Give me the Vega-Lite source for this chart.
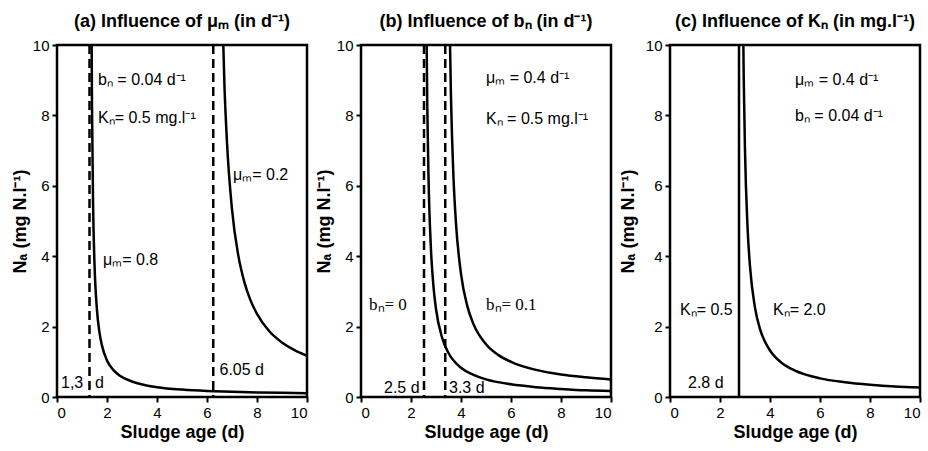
{
  "$schema": "https://vega.github.io/schema/vega-lite/v6.json",
  "background": "white",
  "padding": {"left": 10, "top": 11, "right": 3, "bottom": 2},
  "config": {
    "view": {"stroke": "black", "strokeWidth": 2.5},
    "axis": {"grid": false, "domain": false, "tickColor": "black", "tickWidth": 2, "tickSize": 5, "labelFont": "Liberation Sans", "labelFontSize": 15, "labelColor": "black", "labelPadding": 3, "titleFont": "Liberation Sans", "titleFontSize": 18, "titleFontWeight": "bold", "titleColor": "black", "titlePadding": 3},
    "title": {"font": "Liberation Sans", "fontSize": 18, "fontWeight": "bold", "color": "black", "offset": 7},
    "concat": {"spacing": 4}
  },
  "datasets": {
    "curves": [
      {"p": "a", "s": "m08", "x": 1.38, "y": 10.81},
      {"p": "a", "s": "m08", "x": 1.4, "y": 8.25},
      {"p": "a", "s": "m08", "x": 1.45, "y": 5.19},
      {"p": "a", "s": "m08", "x": 1.5, "y": 3.79},
      {"p": "a", "s": "m08", "x": 1.6, "y": 2.46},
      {"p": "a", "s": "m08", "x": 1.7, "y": 1.83},
      {"p": "a", "s": "m08", "x": 1.8, "y": 1.46},
      {"p": "a", "s": "m08", "x": 2.0, "y": 1.04},
      {"p": "a", "s": "m08", "x": 2.25, "y": 0.77},
      {"p": "a", "s": "m08", "x": 2.5, "y": 0.61},
      {"p": "a", "s": "m08", "x": 3.0, "y": 0.44},
      {"p": "a", "s": "m08", "x": 3.5, "y": 0.34},
      {"p": "a", "s": "m08", "x": 4.0, "y": 0.28},
      {"p": "a", "s": "m08", "x": 5.0, "y": 0.21},
      {"p": "a", "s": "m08", "x": 6.0, "y": 0.17},
      {"p": "a", "s": "m08", "x": 7.0, "y": 0.15},
      {"p": "a", "s": "m08", "x": 8.0, "y": 0.13},
      {"p": "a", "s": "m08", "x": 9.0, "y": 0.12},
      {"p": "a", "s": "m08", "x": 10.0, "y": 0.11},
      {"p": "a", "s": "m02", "x": 6.6, "y": 11.29},
      {"p": "a", "s": "m02", "x": 6.7, "y": 8.81},
      {"p": "a", "s": "m02", "x": 6.8, "y": 7.23},
      {"p": "a", "s": "m02", "x": 7.0, "y": 5.33},
      {"p": "a", "s": "m02", "x": 7.25, "y": 4.03},
      {"p": "a", "s": "m02", "x": 7.5, "y": 3.25},
      {"p": "a", "s": "m02", "x": 7.75, "y": 2.73},
      {"p": "a", "s": "m02", "x": 8.0, "y": 2.36},
      {"p": "a", "s": "m02", "x": 8.5, "y": 1.86},
      {"p": "a", "s": "m02", "x": 9.0, "y": 1.55},
      {"p": "a", "s": "m02", "x": 9.5, "y": 1.33},
      {"p": "a", "s": "m02", "x": 10.0, "y": 1.17},
      {"p": "b", "s": "b0", "x": 2.62, "y": 10.42},
      {"p": "b", "s": "b0", "x": 2.65, "y": 8.33},
      {"p": "b", "s": "b0", "x": 2.7, "y": 6.25},
      {"p": "b", "s": "b0", "x": 2.8, "y": 4.17},
      {"p": "b", "s": "b0", "x": 2.9, "y": 3.13},
      {"p": "b", "s": "b0", "x": 3.0, "y": 2.5},
      {"p": "b", "s": "b0", "x": 3.25, "y": 1.67},
      {"p": "b", "s": "b0", "x": 3.5, "y": 1.25},
      {"p": "b", "s": "b0", "x": 4.0, "y": 0.83},
      {"p": "b", "s": "b0", "x": 4.5, "y": 0.63},
      {"p": "b", "s": "b0", "x": 5.0, "y": 0.5},
      {"p": "b", "s": "b0", "x": 6.0, "y": 0.36},
      {"p": "b", "s": "b0", "x": 7.0, "y": 0.28},
      {"p": "b", "s": "b0", "x": 8.0, "y": 0.23},
      {"p": "b", "s": "b0", "x": 9.0, "y": 0.19},
      {"p": "b", "s": "b0", "x": 10.0, "y": 0.17},
      {"p": "b", "s": "b01", "x": 3.55, "y": 10.42},
      {"p": "b", "s": "b01", "x": 3.6, "y": 8.5},
      {"p": "b", "s": "b01", "x": 3.7, "y": 6.23},
      {"p": "b", "s": "b01", "x": 3.8, "y": 4.93},
      {"p": "b", "s": "b01", "x": 4.0, "y": 3.5},
      {"p": "b", "s": "b01", "x": 4.25, "y": 2.59},
      {"p": "b", "s": "b01", "x": 4.5, "y": 2.07},
      {"p": "b", "s": "b01", "x": 5.0, "y": 1.5},
      {"p": "b", "s": "b01", "x": 5.5, "y": 1.19},
      {"p": "b", "s": "b01", "x": 6.0, "y": 1.0},
      {"p": "b", "s": "b01", "x": 7.0, "y": 0.77},
      {"p": "b", "s": "b01", "x": 8.0, "y": 0.64},
      {"p": "b", "s": "b01", "x": 9.0, "y": 0.56},
      {"p": "b", "s": "b01", "x": 10.0, "y": 0.5},
      {"p": "c", "s": "k", "x": 2.92, "y": 10.9},
      {"p": "c", "s": "k", "x": 2.95, "y": 9.02},
      {"p": "c", "s": "k", "x": 3.0, "y": 7.0},
      {"p": "c", "s": "k", "x": 3.1, "y": 4.85},
      {"p": "c", "s": "k", "x": 3.2, "y": 3.71},
      {"p": "c", "s": "k", "x": 3.4, "y": 2.54},
      {"p": "c", "s": "k", "x": 3.6, "y": 1.93},
      {"p": "c", "s": "k", "x": 3.8, "y": 1.57},
      {"p": "c", "s": "k", "x": 4.0, "y": 1.32},
      {"p": "c", "s": "k", "x": 4.5, "y": 0.95},
      {"p": "c", "s": "k", "x": 5.0, "y": 0.75},
      {"p": "c", "s": "k", "x": 6.0, "y": 0.53},
      {"p": "c", "s": "k", "x": 7.0, "y": 0.42},
      {"p": "c", "s": "k", "x": 8.0, "y": 0.35},
      {"p": "c", "s": "k", "x": 9.0, "y": 0.3},
      {"p": "c", "s": "k", "x": 10.0, "y": 0.27}
    ],
    "vlines": [
      {"p": "a", "x": 1.3},
      {"p": "a", "x": 6.25},
      {"p": "b", "x": 2.52},
      {"p": "b", "x": 3.37},
      {"p": "c", "x": 2.76}
    ],
    "labels": [
      {"p": "a", "f": "sans", "x": 1.64, "y": 9.0, "t": "bₙ = 0.04 d⁻¹"},
      {"p": "a", "f": "sans", "x": 1.64, "y": 7.92, "t": "Kₙ= 0.5 mg.l⁻¹"},
      {"p": "a", "f": "sans", "x": 7.04, "y": 6.3, "t": "μₘ= 0.2"},
      {"p": "a", "f": "sans", "x": 1.84, "y": 3.9, "t": "μₘ= 0.8"},
      {"p": "a", "f": "sans", "x": 0.16, "y": 0.4, "t": "1,3"},
      {"p": "a", "f": "sans", "x": 1.52, "y": 0.4, "t": "d"},
      {"p": "a", "f": "sans", "x": 6.5, "y": 0.77, "t": "6.05 d"},
      {"p": "b", "f": "sans", "x": 5.0, "y": 9.05, "t": "μₘ = 0.4 d⁻¹"},
      {"p": "b", "f": "sans", "x": 5.0, "y": 7.9, "t": "Kₙ  = 0.5 mg.l⁻¹"},
      {"p": "b", "f": "serif", "x": 0.32, "y": 2.6, "t": "bₙ= 0"},
      {"p": "b", "f": "serif", "x": 5.0, "y": 2.6, "t": "bₙ= 0.1"},
      {"p": "b", "f": "sans", "x": 0.92, "y": 0.25, "t": "2.5 d"},
      {"p": "b", "f": "sans", "x": 3.52, "y": 0.25, "t": "3.3 d"},
      {"p": "c", "f": "sans", "x": 5.0, "y": 9.0, "t": "μₘ = 0.4 d⁻¹"},
      {"p": "c", "f": "sans", "x": 5.0, "y": 7.97, "t": "bₙ  = 0.04 d⁻¹"},
      {"p": "c", "f": "sans", "x": 0.4, "y": 2.47, "t": "Kₙ= 0.5"},
      {"p": "c", "f": "sans", "x": 4.12, "y": 2.47, "t": "Kₙ= 2.0"},
      {"p": "c", "f": "sans", "x": 0.72, "y": 0.4, "t": "2.8 d"}
    ]
  },
  "hconcat": [
    {
      "title": "(a) Influence of μₘ (in d⁻¹)",
      "width": 250,
      "height": 352,
      "layer": [
        {
          "data": {"name": "curves"},
          "transform": [{"filter": "datum.p === 'a'"}],
          "mark": {"type": "line", "color": "black", "strokeWidth": 2.5, "interpolate": "monotone", "clip": true},
          "encoding": {
            "x": {"field": "x", "type": "quantitative", "scale": {"domain": [0, 10]}, "axis": {"values": [0,1,2,3,4,5,6,7,8,9,10], "labelExpr": "datum.value % 2 === 0 ? datum.label : ''", "title": "Sludge age (d)"}},
            "y": {"field": "y", "type": "quantitative", "scale": {"domain": [0, 10]}, "axis": {"values": [0,1,2,3,4,5,6,7,8,9,10], "labelExpr": "datum.value % 2 === 0 ? datum.label : ''", "title": "Nₐ (mg N.l⁻¹)"}},
            "detail": {"field": "s"}
          }
        },
        {
          "data": {"name": "vlines"},
          "transform": [{"filter": "datum.p === 'a'"}],
          "mark": {"type": "rule", "color": "black", "strokeWidth": 2.5, "strokeDash": [9, 5]},
          "encoding": {"x": {"field": "x", "type": "quantitative"}}
        },
        {
          "data": {"name": "labels"},
          "transform": [{"filter": "datum.p === 'a'"}],
          "mark": {"type": "text", "align": "left", "baseline": "middle", "font": "Liberation Sans", "fontSize": 16, "color": "black"},
          "encoding": {"x": {"field": "x", "type": "quantitative"}, "y": {"field": "y", "type": "quantitative"}, "text": {"field": "t"}}
        }
      ]
    },
    {
      "title": "(b) Influence of bₙ (in d⁻¹)",
      "width": 250,
      "height": 352,
      "layer": [
        {
          "data": {"name": "curves"},
          "transform": [{"filter": "datum.p === 'b'"}],
          "mark": {"type": "line", "color": "black", "strokeWidth": 2.5, "interpolate": "monotone", "clip": true},
          "encoding": {
            "x": {"field": "x", "type": "quantitative", "scale": {"domain": [0, 10]}, "axis": {"values": [0,1,2,3,4,5,6,7,8,9,10], "labelExpr": "datum.value % 2 === 0 ? datum.label : ''", "title": "Sludge age (d)"}},
            "y": {"field": "y", "type": "quantitative", "scale": {"domain": [0, 10]}, "axis": {"values": [0,1,2,3,4,5,6,7,8,9,10], "labelExpr": "datum.value % 2 === 0 ? datum.label : ''", "title": "Nₐ (mg N.l⁻¹)"}},
            "detail": {"field": "s"}
          }
        },
        {
          "data": {"name": "vlines"},
          "transform": [{"filter": "datum.p === 'b'"}],
          "mark": {"type": "rule", "color": "black", "strokeWidth": 2.5, "strokeDash": [9, 5]},
          "encoding": {"x": {"field": "x", "type": "quantitative"}}
        },
        {
          "data": {"name": "labels"},
          "transform": [{"filter": "datum.p === 'b' && datum.f === 'sans'"}],
          "mark": {"type": "text", "align": "left", "baseline": "middle", "font": "Liberation Sans", "fontSize": 16, "color": "black"},
          "encoding": {"x": {"field": "x", "type": "quantitative"}, "y": {"field": "y", "type": "quantitative"}, "text": {"field": "t"}}
        },
        {
          "data": {"name": "labels"},
          "transform": [{"filter": "datum.p === 'b' && datum.f === 'serif'"}],
          "mark": {"type": "text", "align": "left", "baseline": "middle", "font": "Liberation Serif", "fontSize": 17, "color": "black"},
          "encoding": {"x": {"field": "x", "type": "quantitative"}, "y": {"field": "y", "type": "quantitative"}, "text": {"field": "t"}}
        }
      ]
    },
    {
      "title": "(c) Influence of Kₙ (in mg.l⁻¹)",
      "width": 250,
      "height": 352,
      "layer": [
        {
          "data": {"name": "curves"},
          "transform": [{"filter": "datum.p === 'c'"}],
          "mark": {"type": "line", "color": "black", "strokeWidth": 2.5, "interpolate": "monotone", "clip": true},
          "encoding": {
            "x": {"field": "x", "type": "quantitative", "scale": {"domain": [0, 10]}, "axis": {"values": [0,1,2,3,4,5,6,7,8,9,10], "labelExpr": "datum.value % 2 === 0 ? datum.label : ''", "title": "Sludge age (d)"}},
            "y": {"field": "y", "type": "quantitative", "scale": {"domain": [0, 10]}, "axis": {"values": [0,1,2,3,4,5,6,7,8,9,10], "labelExpr": "datum.value % 2 === 0 ? datum.label : ''", "title": "Nₐ (mg N.l⁻¹)", "titlePadding": 8}},
            "detail": {"field": "s"}
          }
        },
        {
          "data": {"name": "vlines"},
          "transform": [{"filter": "datum.p === 'c'"}],
          "mark": {"type": "rule", "color": "black", "strokeWidth": 2.5},
          "encoding": {"x": {"field": "x", "type": "quantitative"}}
        },
        {
          "data": {"name": "labels"},
          "transform": [{"filter": "datum.p === 'c'"}],
          "mark": {"type": "text", "align": "left", "baseline": "middle", "font": "Liberation Sans", "fontSize": 16, "color": "black"},
          "encoding": {"x": {"field": "x", "type": "quantitative"}, "y": {"field": "y", "type": "quantitative"}, "text": {"field": "t"}}
        }
      ]
    }
  ]
}
